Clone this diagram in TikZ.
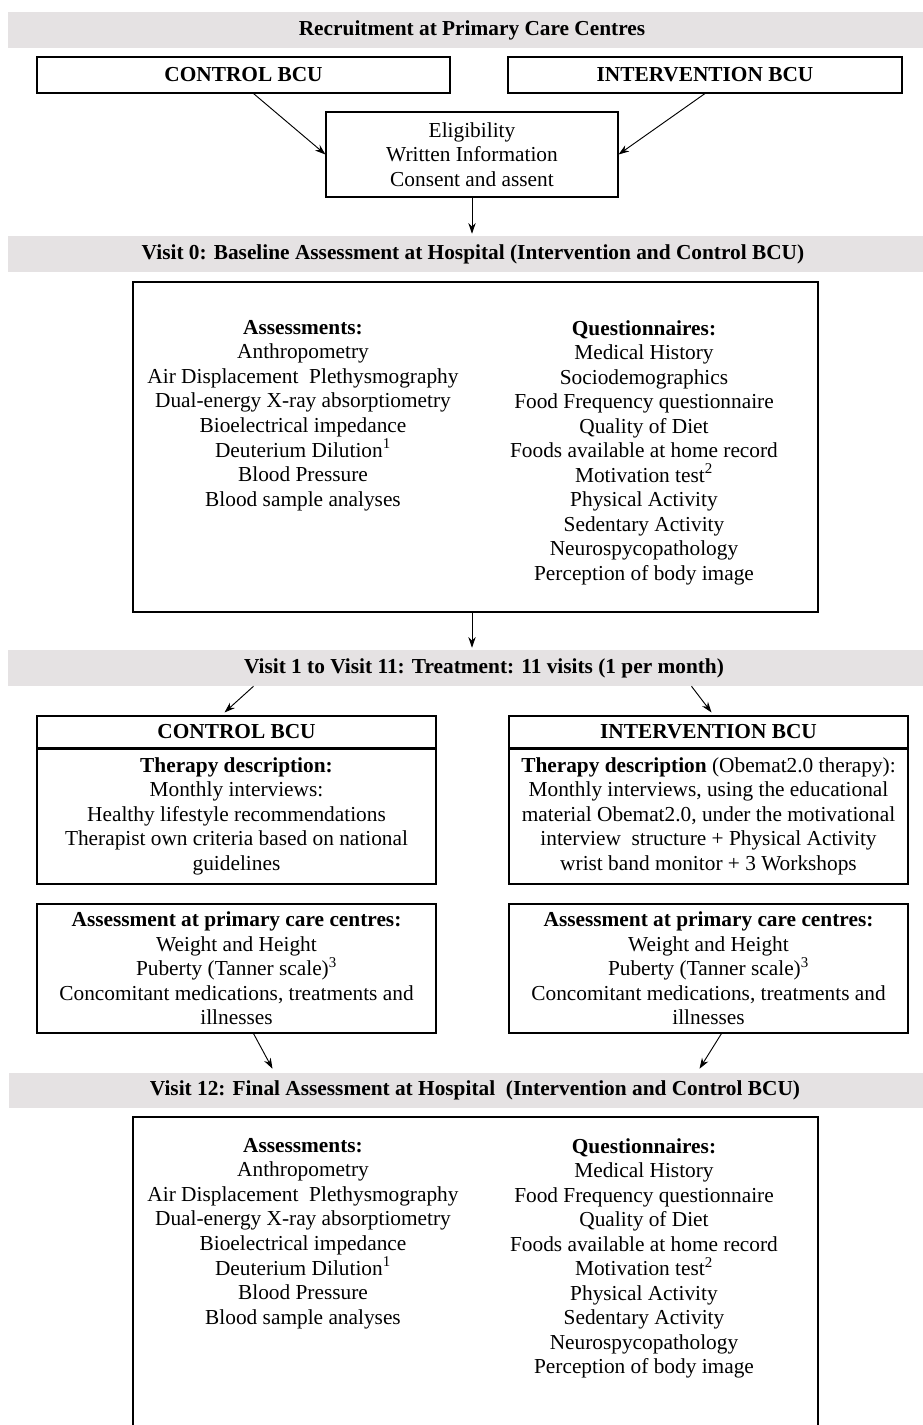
\documentclass[tikz,border=0pt]{standalone}
\usepackage{fontspec}
\setmainfont{Liberation Serif}
\usetikzlibrary{arrows.meta,calc}
\definecolor{bandgray}{RGB}{229,226,227}
\newcommand\pxu{0.75pt}
\begin{document}
\begin{tikzpicture}[x=0.75pt,y=-0.75pt,
  every node/.style={font=\fontsize{16}{18.4}\selectfont},
  box/.style={draw, line width=0.8pt, inner sep=0pt, align=center},
  band/.style={fill=bandgray, inner sep=0pt, minimum width=915*\pxu, minimum height=36*\pxu},
  bandtext/.style={inner sep=0pt, font=\fontsize{16}{18.4}\selectfont\bfseries},
  col/.style={align=center, inner sep=0pt, anchor=north},
  arr/.style={-{Stealth[length=8pt,width=5.5pt]}, line width=0.7pt}]
\useasboundingbox (0,0) rectangle (923,1425);
\fill[white] (0,0) rectangle (923,1425);

% Recruitment
\node[band] (band1) at (465.5,30) {};
\node[bandtext] (t1) at (472,30) {Recruitment at Primary Care Centres};
\node[box, minimum width=413*\pxu, minimum height=36*\pxu] (ctl1) at (243.5,75) {\textbf{CONTROL BCU}};
\node[box, minimum width=394*\pxu, minimum height=36*\pxu] (int1) at (705,75) {\textbf{INTERVENTION BCU}};
\node[box, minimum width=292*\pxu, minimum height=85*\pxu] (elig) at (472,154.5) {Eligibility\\Written Information\\Consent and assent};
\draw[arr] ($(ctl1.south)+(10,0)$) -- (elig.west);
\draw[arr] (int1.south) -- (elig.east);

% Visit 0
\node[band] (band2) at (465.5,254) {};
\node[bandtext] (t2) at (473,254) {Visit 0: Baseline Assessment at Hospital (Intervention and Control BCU)};
\draw[arr] (elig.south) -- ($(elig.south |- band2.north)+(0,-2)$);
\node[box, minimum width=685*\pxu, minimum height=330*\pxu] (base) at (475.5,447) {};
\node[col] (bA) at (303,320) {\textbf{Assessments:}\\Anthropometry\\Air Displacement\ \ Plethysmography\\Dual-energy\ X-ray absorptiometry\\Bioelectrical\ impedance\\Deuterium\ Dilution\textsuperscript{1}\\Blood\ Pressure\\Blood\ sample\ analyses};
\node[col] (bQ) at (644,320) {\textbf{Questionnaires:}\\Medical\ History\\Sociodemographics\\Food Frequency questionnaire\\Quality of Diet\\Foods\ available\ at home record\\Motivation\ test\textsuperscript{2}\\Physical Activity\\Sedentary Activity\\Neurospycopathology\\Perception\ of body image};

% Visits 1-11
\node[band] (band3) at (465.5,668) {};
\node[bandtext] (t3) at (484,668) {Visit 1 to Visit 11: Treatment: 11 visits (1 per month)};
\draw[arr] (base.south -| elig.south) -- ($(elig.south |- band3.north)+(0,-2)$);

\node[box, minimum width=399*\pxu, minimum height=32*\pxu] (ctl2h) at (236.5,732) {\textbf{CONTROL BCU}};
\node[box, minimum width=399*\pxu, minimum height=136*\pxu] (ctl2b) at (236.5,816) {\textbf{Therapy description:}\\Monthly interviews:\\Healthy lifestyle\ recommendations\\Therapist\ own\ criteria\ based on national\\guidelines};
\draw[line width=1.6pt] (ctl2h.south west) -- (ctl2h.south east);

\node[box, minimum width=399*\pxu, minimum height=32*\pxu] (int2h) at (708.5,732) {\textbf{INTERVENTION BCU}};
\node[box, minimum width=399*\pxu, minimum height=136*\pxu] (int2b) at (708.5,816) {\textbf{Therapy description} (Obemat2.0 therapy):\\Monthly interviews,\ using the educational\\material\ Obemat2.0, under\ the motivational\\interview\ \ structure\ + Physical Activity\\wrist\ band monitor + 3 Workshops};
\draw[line width=1.6pt] (int2h.south west) -- (int2h.south east);

\draw[arr] ($(band3.south -| ctl2h.north)+(17,0)$) -- ($(ctl2h.north)+(-12,-3)$);
\draw[arr] ($(band3.south -| int2h.north)+(-17,0)$) -- ($(int2h.north)+(3,-3)$);

\node[box, minimum width=399*\pxu, minimum height=129*\pxu] (ctl3) at (236.5,968.5) {\textbf{Assessment at primary care centres:}\\Weight and Height\\Puberty\ (Tanner\ scale)\textsuperscript{3}\\Concomitant\ medications,\ treatments\ and\\illnesses};
\node[box, minimum width=399*\pxu, minimum height=129*\pxu] (int3) at (708.5,968.5) {\textbf{Assessment at primary care centres:}\\Weight and Height\\Puberty\ (Tanner\ scale)\textsuperscript{3}\\Concomitant\ medications,\ treatments\ and\\illnesses};

% Visit 12
\node[band, minimum height=35*\pxu] (band4) at (466,1090.5) {};
\node[bandtext] (t4) at (475,1090.5) {Visit 12: Final Assessment at Hospital\ \ (Intervention and Control BCU)};
\draw[arr] ($(ctl3.south)+(17,0)$) -- ($(band4.north -| ctl3.south)+(36,-4)$);
\draw[arr] ($(int3.south)+(13,0)$) -- ($(band4.north -| int3.south)+(-9,-4)$);

\node[box, minimum width=685*\pxu, minimum height=323*\pxu] (fin) at (475.5,1278.5) {};
\node[col] (fA) at (303,1138) {\textbf{Assessments:}\\Anthropometry\\Air Displacement\ \ Plethysmography\\Dual-energy\ X-ray absorptiometry\\Bioelectrical\ impedance\\Deuterium\ Dilution\textsuperscript{1}\\Blood\ Pressure\\Blood\ sample\ analyses};
\node[col] (fQ) at (644,1138) {\textbf{Questionnaires:}\\Medical\ History\\Food Frequency questionnaire\\Quality of Diet\\Foods\ available\ at home record\\Motivation\ test\textsuperscript{2}\\Physical Activity\\Sedentary Activity\\Neurospycopathology\\Perception\ of body image};
\end{tikzpicture}
\end{document}
